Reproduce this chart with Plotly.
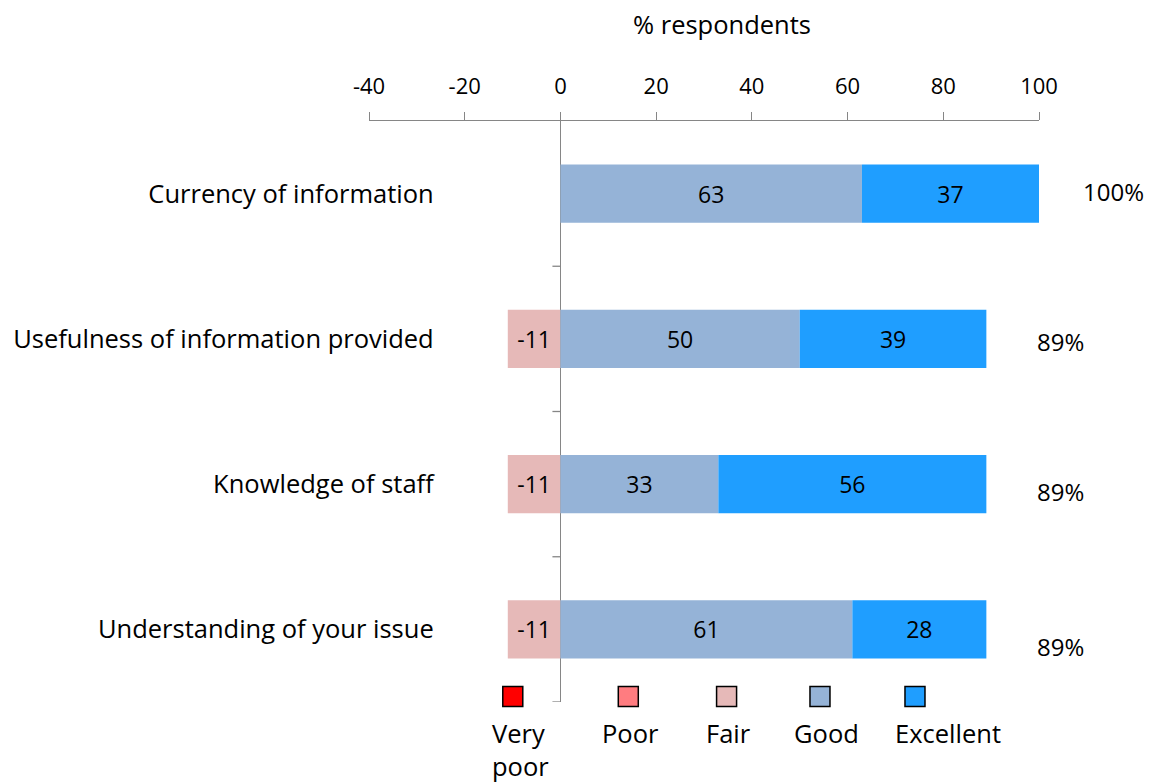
import plotly.graph_objects as go

categories = ["Currency of information", "Usefulness of information provided",
              "Knowledge of staff", "Understanding of your issue"]
series_names = ["Very poor", "Poor", "Fair", "Good", "Excellent"]
very_poor = [0, 0, 0, 0]
poor = [0, 0, 0, 0]
fair = [0, -11, -11, -11]
good = [63, 50, 33, 61]
excellent = [37, 39, 56, 28]
x_ticks = [-40, -20, 0, 20, 40, 60, 80, 100]
x_tick_labels = ["-40", "-20", "0", "20", "40", "60", "80", "100"]

colors = ["#FF0000", "#FF7C80", "#E6B9B8", "#95B3D7", "#1F9EFF"]
FONT = "Open Sans"
FS_NUM = 22
FS_TXT = 25.5

fig = go.Figure()
for name, vals, col in zip(series_names, [very_poor, poor, fair, good, excellent], colors):
    fig.add_trace(go.Bar(
        y=categories, x=vals, orientation="h", name=name,
        marker=dict(color=col, line=dict(width=0)),
        text=[str(v) if v != 0 else "" for v in vals],
        textposition="inside", insidetextanchor="middle", textangle=0,
        textfont=dict(family=FONT, size=23, color="black"),
        constraintext="none", showlegend=False, hoverinfo="skip",
    ))

# totals to the right
totals = [g + e for g, e in zip(good, excellent)]
total_yshift = [2, -3, -7, -17]
for cat, t, ys in zip(categories, totals, total_yshift):
    fig.add_annotation(x=t, y=cat, xref="x", yref="y", text=f"{t}%",
                       showarrow=False, xanchor="center", yanchor="middle",
                       xshift=74, yshift=ys,
                       font=dict(family=FONT, size=24, color="black"))

# category boundary ticks on the zero axis
for b in [0.5, 1.5, 2.5, 3.5]:
    fig.add_shape(type="line", xref="x", yref="y", xsizemode="pixel", xanchor=0,
                  x0=-8, x1=0, y0=b, y1=b, line=dict(color="#868686", width=1.3))

# axis title
fig.add_annotation(x=0.527, y=1.167, xref="paper", yref="paper", text="% respondents",
                   showarrow=False, xanchor="center", yanchor="middle",
                   font=dict(family=FONT, size=FS_TXT, color="black"))

# custom legend
leg_sq_x = [0.2146, 0.3870, 0.5337, 0.6731, 0.8149]
leg_txt_x = [0.2254, 0.3896, 0.5373, 0.6821, 0.8642]
leg_labels = ["Very<br>poor", "Poor", "Fair", "Good", "Excellent"]
for sx, tx, lab, col in zip(leg_sq_x, leg_txt_x, leg_labels, colors):
    fig.add_shape(type="rect", xref="paper", yref="paper", xsizemode="pixel", ysizemode="pixel",
                  xanchor=sx, yanchor=0.0095, x0=-10, x1=10, y0=-10, y1=10,
                  fillcolor=col, line=dict(color="black", width=1.5))
    fig.add_annotation(x=tx, y=-0.021, xref="paper", yref="paper", text=lab,
                       showarrow=False, xanchor="center", yanchor="top", align="left",
                       font=dict(family=FONT, size=FS_TXT, color="black"))

fig.update_layout(
    width=1156, height=784,
    margin=dict(l=361, r=125, t=113, b=90, autoexpand=False),
    barmode="relative", bargap=0.6,
    plot_bgcolor="white", paper_bgcolor="white",
    font=dict(family=FONT, size=FS_NUM, color="black"),
    xaxis=dict(side="top", range=[-40, 100], tickvals=x_ticks, ticktext=x_tick_labels,
               showgrid=False, automargin=False,
               showline=True, linecolor="#868686", linewidth=1.3,
               ticks="outside", ticklen=8, tickcolor="#868686", tickwidth=1.3,
               ticklabelstandoff=9,
               zeroline=True, zerolinecolor="#868686", zerolinewidth=1.3,
               tickfont=dict(family=FONT, size=FS_NUM, color="black")),
    yaxis=dict(categoryorder="array", categoryarray=categories, range=[3.5, -0.5],
               anchor="free", position=0.0966, showline=False, showgrid=False,
               automargin=False, autoshift=False,
               ticks="", zeroline=False,
               tickfont=dict(family=FONT, size=FS_TXT, color="black")),
)

fig.write_html("out.html")
